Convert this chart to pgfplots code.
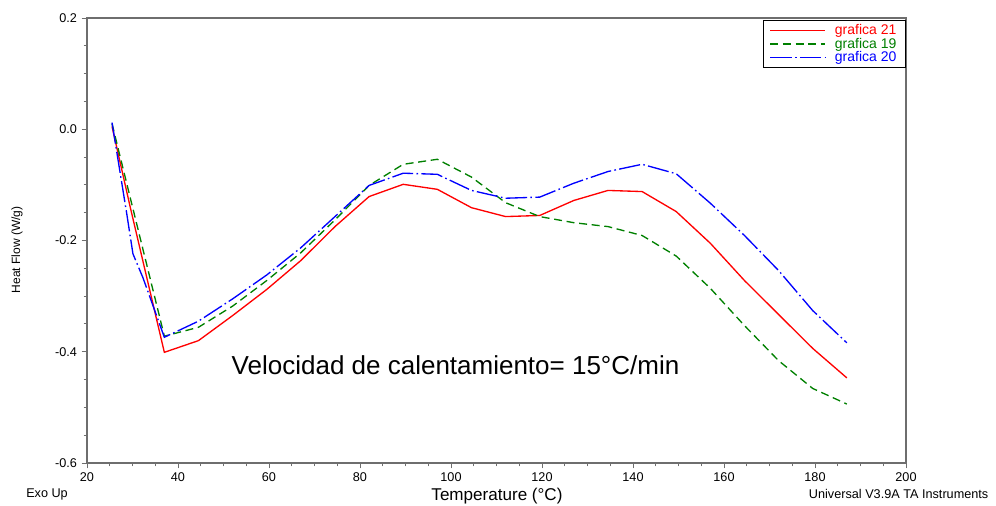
\documentclass[border=0pt]{standalone}
\usepackage{fontspec}
\setmainfont{Liberation Sans}
\usepackage{pgfplots}
\pgfplotsset{compat=1.18}
\definecolor{c21}{RGB}{255,0,0}
\definecolor{c19}{RGB}{0,128,0}
\definecolor{c20}{RGB}{0,0,255}
\definecolor{axgray}{RGB}{110,110,110}
\begin{document}
\begin{tikzpicture}
\useasboundingbox (-65.25pt,-32.25pt) rectangle (681.75pt,347.25pt);
\begin{axis}[
  at={(0,0)}, anchor=south west,
  scale only axis, width=614.25pt, height=333.75pt,
  xmin=20, xmax=200, ymin=-0.6, ymax=0.2,
  clip=false,
  xtick={20,40,...,200}, ytick={-0.6,-0.4,-0.2,0,0.2},
  minor tick num=3,
  xtick pos=left, ytick pos=left,
  tick align=outside,
  major tick length=4pt, minor tick length=2.5pt,
  tick style={axgray, line width=0.7pt},
  axis line style={axgray, line width=1.1pt},
  /pgf/number format/assume math mode=true,
  ticklabel style={font=\fontsize{9.5}{10}\selectfont},
  yticklabel style={/pgf/number format/.cd, fixed, fixed zerofill, precision=1},
  xticklabel style={/pgf/number format/.cd, fixed, precision=0},
  legend style={at={(rel axis cs:1,0.995)}, anchor=north east, draw=black,
    font=\fontsize{10.5}{10.5}\selectfont, inner xsep=5pt, inner ysep=1pt, row sep=-3pt,
    cells={anchor=west}, /tikz/every odd column/.append style={column sep=5pt}},
  legend image code/.code={\draw[#1] (0pt,0pt) -- (41pt,0pt);},
]
\addlegendimage{draw=c21, line width=1pt}
\addlegendentry{\textcolor{c21}{grafica 21}}
\addlegendimage{draw=c19, line width=1pt, dash pattern=on 6pt off 3.5pt}
\addlegendentry{\textcolor{c19}{grafica 19}}
\addlegendimage{draw=c20, line width=1pt, dash pattern=on 16pt off 2.5pt on 1.2pt off 2.5pt}
\addlegendentry{\textcolor{c20}{grafica 20}}
\addplot[c21, line width=1pt, forget plot] coordinates {
(25.5,0.005) (29.5,-0.14) (37,-0.401) (44.5,-0.380) (52,-0.335) (59.5,-0.288)
(67,-0.236) (74.5,-0.175) (82,-0.121) (89.5,-0.099) (97,-0.108) (104.5,-0.141)
(112,-0.157) (119.5,-0.155) (127,-0.128) (134.5,-0.110) (142,-0.112) (149.5,-0.148)
(157,-0.205) (164.5,-0.272) (172,-0.333) (179.5,-0.394) (187,-0.447)};
\addplot[c19, line width=1pt, dash pattern=on 6pt off 3.5pt, forget plot] coordinates {
(25.5,0.01) (29.5,-0.123) (37,-0.372) (44.5,-0.356) (52,-0.318) (59.5,-0.272)
(67,-0.222) (74.5,-0.163) (82,-0.101) (89.5,-0.063) (97,-0.054) (104.5,-0.086)
(112,-0.132) (119.5,-0.157) (127,-0.168) (134.5,-0.175) (142,-0.191) (149.5,-0.228)
(157,-0.286) (164.5,-0.353) (172,-0.416) (179.5,-0.466) (187,-0.494)};
\addplot[c20, line width=1pt, dash pattern=on 16pt off 2.5pt on 1.2pt off 2.5pt, forget plot] coordinates {
(25.5,0.012) (28.7,-0.15) (30.1,-0.224) (32.3,-0.267) (37,-0.374) (44.5,-0.345)
(52,-0.305) (59.5,-0.262) (67,-0.213) (74.5,-0.157) (82,-0.101) (89.5,-0.079)
(97,-0.081) (104.5,-0.110) (112,-0.124) (119.5,-0.122) (127,-0.097) (134.5,-0.076)
(142,-0.063) (149.5,-0.080) (157,-0.133) (164.5,-0.191) (172,-0.254) (179.5,-0.326)
(187,-0.384)};
\node[font=\fontsize{19.5}{21}\selectfont] at (axis cs:101,-0.425) {Velocidad de calentamiento= 15°C/min};
\node[font=\fontsize{12.8}{14}\selectfont] at (axis description cs:0.5006,-0.0742) {Temperature (°C)};
\node[font=\fontsize{9}{10}\selectfont, rotate=90] at (axis description cs:-0.0855,0.479) {Heat Flow (W/g)};
\node[font=\fontsize{9.5}{10}\selectfont] at (axis description cs:-0.0488,-0.0697) {Exo Up};
\node[font=\fontsize{9.5}{10}\selectfont, anchor=east] at (axis description cs:1.1062,-0.0697) {Universal V3.9A TA Instruments};
\end{axis}
\end{tikzpicture}
\end{document}
